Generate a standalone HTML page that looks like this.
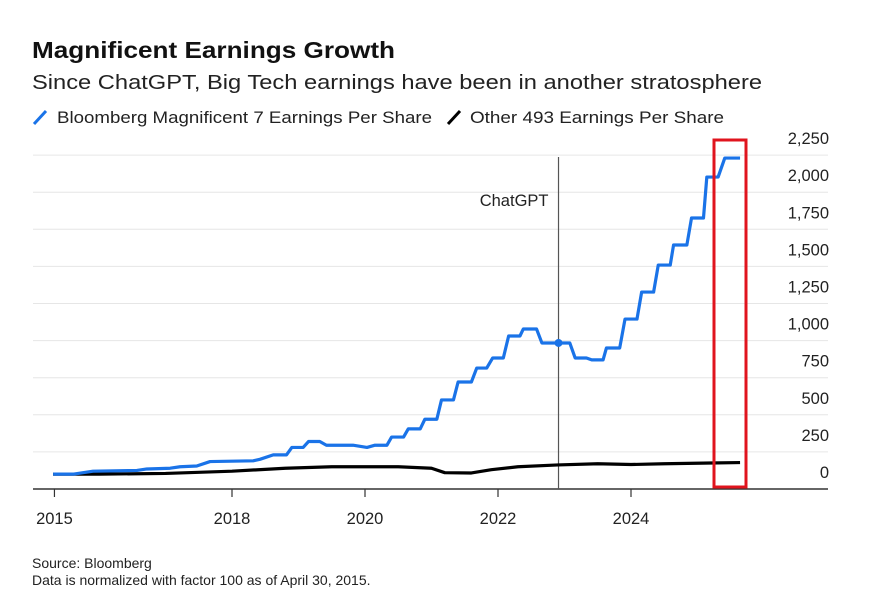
<!DOCTYPE html>
<html><head><meta charset="utf-8"><style>
html,body{margin:0;padding:0;background:#fff;}
svg{display:block;font-family:"Liberation Sans",Arial,sans-serif;}
</style></head><body>
<svg id="chart" width="872" height="608" viewBox="0 0 872 608">
<text x="32" y="58" font-size="23" font-weight="bold" fill="#111" textLength="363" lengthAdjust="spacingAndGlyphs">Magnificent Earnings Growth</text>
<text x="32" y="89" font-size="20" fill="#222" textLength="730" lengthAdjust="spacingAndGlyphs">Since ChatGPT, Big Tech earnings have been in another stratosphere</text>
<g>
<line x1="34" y1="124" x2="46" y2="111" stroke="#1a73e8" stroke-width="3"/>
<text x="57" y="123" font-size="16.5" fill="#222" textLength="375" lengthAdjust="spacingAndGlyphs">Bloomberg Magnificent 7 Earnings Per Share</text>
<line x1="448" y1="124" x2="460" y2="111" stroke="#000" stroke-width="3"/>
<text x="470" y="123" font-size="16.5" fill="#222" textLength="254" lengthAdjust="spacingAndGlyphs">Other 493 Earnings Per Share</text>
</g>
<g id="grid"></g>
<g id="axes"></g>
<g id="series"></g>
<text x="32" y="568" font-size="14" fill="#222">Source: Bloomberg</text>
<text x="32" y="585" font-size="14" fill="#222">Data is normalized with factor 100 as of April 30, 2015.</text>
<rect x="714" y="140" width="32" height="347" fill="none" stroke="#e0141e" stroke-width="3"/>
</svg>
<script>
const yTicks=[0,250,500,750,1000,1250,1500,1750,2000,2250];
const yTickLabels=["0","250","500","750","1,000","1,250","1,500","1,750","2,000","2,250"];
const xTicks=[2015.33,2018,2020,2022,2024];
const xTickLabels=["2015","2018","2020","2022","2024"];
const mag7Dates=[2015.31,2015.61,2015.91,2016.57,2016.72,2017.07,2017.22,2017.47,2017.67,2018.32,2018.42,2018.62,2018.82,2018.90,2019.07,2019.15,2019.32,2019.42,2019.82,2020.03,2020.15,2020.33,2020.40,2020.58,2020.65,2020.83,2020.90,2021.08,2021.15,2021.33,2021.40,2021.60,2021.68,2021.83,2021.92,2022.08,2022.16,2022.33,2022.38,2022.58,2022.66,2023.08,2023.16,2023.33,2023.41,2023.58,2023.63,2023.83,2023.91,2024.09,2024.16,2024.34,2024.41,2024.59,2024.64,2024.84,2024.91,2025.09,2025.14,2025.31,2025.41,2025.64];
const mag7Values=[100,100,120,125,135,140,150,155,185,190,200,230,230,280,280,320,320,295,295,280,295,295,350,350,405,405,470,470,600,600,721,721,815,815,883,883,1031,1031,1078,1078,984,984,883,883,870,870,950,950,1145,1145,1327,1327,1509,1509,1644,1644,1826,1826,2102,2102,2230,2230];
const otherDates=[2015.31,2016,2017,2018,2018.8,2019.5,2020.5,2021.0,2021.2,2021.6,2021.9,2022.3,2022.9,2023.5,2024,2024.5,2025.2,2025.64];
const otherValues=[100,100,105,120,140,150,150,140,110,108,130,150,162,170,165,170,175,178];
const chatgptDate=2022.91;
const chatgptValue=984;

const NS="http://www.w3.org/2000/svg";
const X=t=>232+(t-2018)*66.5;
const Y=v=>489-v*0.1484;
function mk(tag,attrs,parent){const e=document.createElementNS(NS,tag);for(const k in attrs)e.setAttribute(k,attrs[k]);parent.appendChild(e);return e;}
const grid=document.getElementById('grid'),axes=document.getElementById('axes'),series=document.getElementById('series');
yTicks.forEach((v,i)=>{
  if(v>0){const l=mk('line',{x1:33,x2:828,y1:Y(v),y2:Y(v),stroke:'#e6e6e6','stroke-width':1},grid);
  
  }
  const t=mk('text',{x:829,y:Y(v)-11,'font-size':16.5,fill:'#222','text-anchor':'end'},axes);
  t.textContent=yTickLabels[i];
  
  
});
const ax=mk('line',{x1:33,x2:828,y1:Y(0),y2:Y(0),stroke:'#333','stroke-width':1.5},axes);


xTicks.forEach((t,i)=>{
  const tk=mk('line',{x1:X(t),x2:X(t),y1:Y(0),y2:Y(0)+8,stroke:'#333','stroke-width':1.2},axes);
  
  
  const lb=mk('text',{x:X(t),y:524,'font-size':16.5,fill:'#222','text-anchor':'middle'},axes);
  lb.textContent=xTickLabels[i];
  
  
});
const vl=mk('line',{x1:X(chatgptDate),x2:X(chatgptDate),y1:157,y2:Y(0),stroke:'#555','stroke-width':1.2},series);


const vt=mk('text',{x:X(chatgptDate)-10,y:206,'font-size':16.5,fill:'#222','text-anchor':'end'},series);
vt.textContent='ChatGPT';


const op=mk('polyline',{points:otherDates.map((d,i)=>X(d)+','+Y(otherValues[i])).join(' '),fill:'none',stroke:'#000','stroke-width':3.2,'stroke-linejoin':'round'},series);


const bp=mk('polyline',{points:mag7Dates.map((d,i)=>X(d)+','+Y(mag7Values[i])).join(' '),fill:'none',stroke:'#1a73e8','stroke-width':3.2,'stroke-linejoin':'round'},series);


const dot=mk('circle',{cx:X(chatgptDate),cy:Y(chatgptValue),r:4,fill:'#1a73e8'},series);


</script>
</body></html>
